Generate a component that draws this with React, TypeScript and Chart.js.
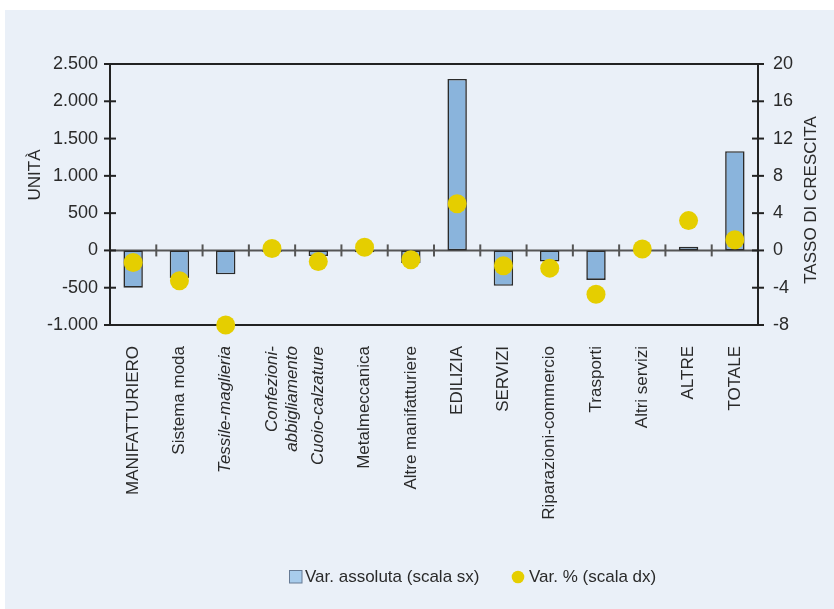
import React, { useEffect, useRef } from "react";
import { Chart, registerables } from "chart.js";

Chart.register(...registerables);

const categories: (string | string[])[] = [
  "MANIFATTURIERO",
  "Sistema moda",
  "Tessile-maglieria",
  ["Confezioni-", "abbigliamento"],
  "Cuoio-calzature",
  "Metalmeccanica",
  "Altre manifatturiere",
  "EDILIZIA",
  "SERVIZI",
  "Riparazioni-commercio",
  "Trasporti",
  "Altri servizi",
  "ALTRE",
  "TOTALE",
];
const italicCategories = [2, 3, 4];

const absoluteValues = [-500, -370, -320, -20, -75, -25, -170, 2300, -475, -150, -395, -12, 50, 1330];
const percentValues = [-1.3, -3.25, -8.0, 0.2, -1.2, 0.35, -1.0, 5.0, -1.65, -1.9, -4.7, 0.15, 3.2, 1.15];

const leftTitle = "UNITÀ";
const rightTitle = "TASSO DI CRESCITA";
const barLabel = "Var. assoluta (scala sx)";
const dotLabel = "Var. % (scala dx)";

const FONT = "'Liberation Sans', Arial, sans-serif";
const TEXT = "#2a2a2a";
const BAR_COLOR = "#8AB4DC";
const DOT_COLOR = "#E5CE00";

const formatThousands = (v: number) => {
  const s = Math.abs(v).toString().replace(/\B(?=(\d{3})+(?!\d))/g, ".");
  return (v < 0 ? "-" : "") + s;
};

const decorPlugin = {
  id: "decor",
  beforeDatasetsDraw(chart: any) {
    const { ctx, chartArea, scales } = chart;
    const { left, right, top, bottom } = chartArea;
    const x = scales.x;
    const y = scales.y;
    const y1 = scales.y1;
    const line = (x0: number, yy0: number, x1: number, yy1: number) => {
      ctx.beginPath();
      ctx.moveTo(x0, yy0);
      ctx.lineTo(x1, yy1);
      ctx.stroke();
    };
    ctx.save();
    const y0 = y.getPixelForValue(0);
    ctx.strokeStyle = "#555";
    ctx.lineWidth = 2;
    line(left, y0, right, y0);
    for (let i = 1; i < categories.length; i++) {
      const xp = (x.getPixelForTick(i - 1) + x.getPixelForTick(i)) / 2;
      line(xp, y0 - 6, xp, y0 + 6);
    }
    ctx.strokeStyle = "#222";
    ctx.lineWidth = 2;
    ctx.strokeRect(left, top, right - left, bottom - top);
    y.ticks.forEach((_t: any, i: number) => {
      const yp = y.getPixelForTick(i);
      line(left - 6, yp, left + 6, yp);
    });
    y1.ticks.forEach((_t: any, i: number) => {
      const yp = y1.getPixelForTick(i);
      line(right - 6, yp, right + 6, yp);
    });
    ctx.restore();
  },
  afterDraw(chart: any) {
    const { ctx } = chart;
    ctx.save();
    ctx.fillStyle = TEXT;
    ctx.font = `17px ${FONT}`;
    ctx.textAlign = "center";
    ctx.textBaseline = "middle";
    // axis titles (both read bottom-to-top)
    ctx.save();
    ctx.translate(30, 165);
    ctx.rotate(-Math.PI / 2);
    ctx.fillText(leftTitle, 0, 0);
    ctx.restore();
    ctx.save();
    ctx.translate(806, 190);
    ctx.rotate(-Math.PI / 2);
    ctx.fillText(rightTitle, 0, 0);
    ctx.restore();
    // legend
    const ly = 567;
    ctx.fillStyle = "#A8CCEC";
    ctx.fillRect(284.5, ly - 6.5, 12.5, 12.5);
    ctx.strokeStyle = "#667a94";
    ctx.lineWidth = 1;
    ctx.strokeRect(284.5, ly - 6.5, 12.5, 12.5);
    ctx.fillStyle = TEXT;
    ctx.textAlign = "left";
    ctx.fillText(chart.data.datasets[0].label, 300, ly);
    ctx.fillStyle = DOT_COLOR;
    ctx.beginPath();
    ctx.arc(513, ly, 6.3, 0, Math.PI * 2);
    ctx.fill();
    ctx.fillStyle = TEXT;
    ctx.fillText(chart.data.datasets[1].label, 524, ly);
    ctx.restore();
  },
};

export default function App() {
  const ref = useRef<HTMLCanvasElement | null>(null);
  useEffect(() => {
    if (!ref.current) return;
    const chart = new Chart(ref.current, {
      type: "bar",
      data: {
        labels: categories as any,
        datasets: [
          {
            type: "bar",
            label: barLabel,
            data: absoluteValues,
            yAxisID: "y",
            backgroundColor: BAR_COLOR,
            borderColor: "#2b2b2b",
            borderWidth: 1.6,
            borderSkipped: false,
            barPercentage: 0.42,
            categoryPercentage: 1,
            order: 2,
          } as any,
          {
            type: "line",
            label: dotLabel,
            data: percentValues,
            yAxisID: "y1",
            showLine: false,
            clip: false,
            pointRadius: 9.5,
            pointHoverRadius: 9.5,
            pointBackgroundColor: DOT_COLOR,
            pointBorderWidth: 0,
            borderColor: DOT_COLOR,
            backgroundColor: DOT_COLOR,
            order: 1,
          } as any,
        ],
      },
      options: {
        responsive: false,
        animation: false,
        events: [],
        layout: { padding: { top: 54, left: 0, right: 0, bottom: 0 } },
        plugins: {
          legend: { display: false },
          tooltip: { enabled: false },
        },
        scales: {
          x: {
            grid: { display: false, drawTicks: false },
            border: { display: false },
            afterFit: (s: any) => {
              s.height = 284;
            },
            ticks: {
              autoSkip: false,
              maxRotation: 90,
              minRotation: 90,
              padding: 21,
              color: TEXT,
              font: (c: any) => ({
                family: FONT,
                size: 17,
                style: italicCategories.includes(c.index) ? "italic" : "normal",
              }),
            },
          },
          y: {
            position: "left",
            min: -1000,
            max: 2500,
            grid: { display: false, drawTicks: false },
            border: { display: false },
            afterFit: (s: any) => {
              s.width = 105;
            },
            ticks: {
              stepSize: 500,
              padding: 12,
              color: TEXT,
              font: { family: FONT, size: 18 },
              callback: (v: any) => formatThousands(Number(v)),
            },
          },
          y1: {
            position: "right",
            min: -8,
            max: 20,
            grid: { display: false, drawTicks: false },
            border: { display: false },
            afterFit: (s: any) => {
              s.width = 76;
            },
            ticks: {
              stepSize: 4,
              padding: 15,
              color: TEXT,
              font: { family: FONT, size: 18 },
            },
          },
        },
      } as any,
      plugins: [decorPlugin],
    });
    return () => chart.destroy();
  }, []);

  return (
    <div
      style={{
        position: "fixed",
        left: 5,
        top: 10,
        width: 829,
        height: 599,
        background: "#EAF0F8",
      }}
    >
      <canvas ref={ref} width={829} height={599} style={{ display: "block" }} />
    </div>
  );
}
